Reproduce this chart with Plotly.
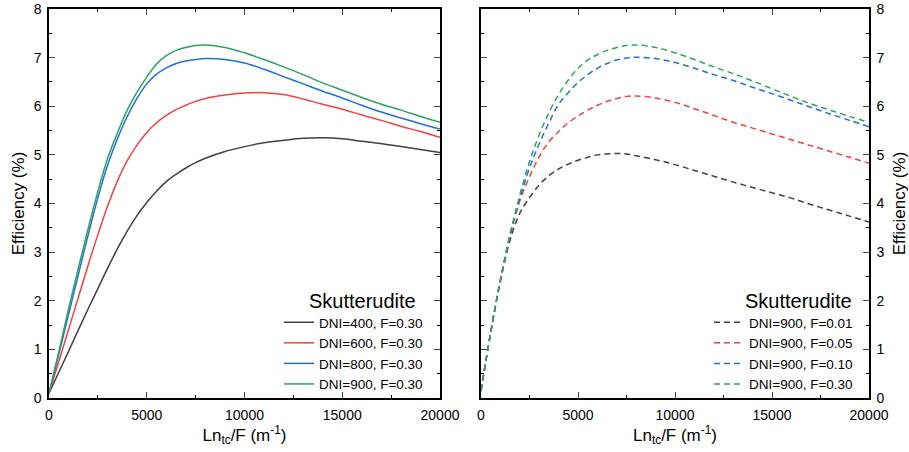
import plotly.graph_objects as go

# ---------------- data ----------------
# Left panel: F = 0.30, varying DNI
left_names = ["DNI=400, F=0.30", "DNI=600, F=0.30", "DNI=800, F=0.30", "DNI=900, F=0.30"]

left_x = [0, 500, 1000, 1500, 2000, 2500, 3000, 3500, 4000, 4500, 5000, 5500, 6000, 6500, 7000, 7500, 8000,
          9000, 10000, 11000, 12000, 13000, 14000, 15000, 16000, 17000, 18000, 19000, 20000]

dni400_y = [0.10, 0.53, 0.96, 1.40, 1.83, 2.25, 2.67, 3.07, 3.43, 3.75, 4.02, 4.25, 4.45, 4.60, 4.73, 4.84, 4.93,
            5.07, 5.17, 5.25, 5.30, 5.34, 5.35, 5.33, 5.28, 5.23, 5.17, 5.11, 5.05]
dni600_y = [0.10, 0.75, 1.41, 2.07, 2.73, 3.36, 3.95, 4.46, 4.88, 5.20, 5.46, 5.66, 5.81, 5.93, 6.02, 6.10, 6.16,
            6.23, 6.27, 6.28, 6.24, 6.15, 6.04, 5.94, 5.82, 5.71, 5.59, 5.48, 5.36]
dni800_y = [0.10, 0.90, 1.72, 2.54, 3.35, 4.12, 4.79, 5.33, 5.79, 6.16, 6.46, 6.66, 6.79, 6.88, 6.93, 6.96, 6.98,
            6.96, 6.89, 6.76, 6.61, 6.46, 6.31, 6.17, 6.02, 5.88, 5.76, 5.64, 5.53]
dni900_y = [0.10, 0.95, 1.83, 2.67, 3.48, 4.25, 4.93, 5.45, 5.92, 6.29, 6.60, 6.87, 7.04, 7.15, 7.21, 7.25, 7.26,
            7.21, 7.10, 6.96, 6.81, 6.65, 6.48, 6.33, 6.18, 6.04, 5.92, 5.79, 5.67]

# Right panel: DNI = 900, varying F
right_names = ["DNI=900, F=0.01", "DNI=900, F=0.05", "DNI=900, F=0.10", "DNI=900, F=0.30"]

right_x = [0, 500, 1000, 1500, 2000, 2500, 3000, 3500, 4000, 4500, 5000, 5500, 6000, 6500, 7000, 7500, 8000,
           9000, 10000, 11000, 12000, 13000, 14000, 15000, 16000, 17000, 18000, 19000, 20000]

f001_y = [0.15, 1.35, 2.40, 3.25, 3.80, 4.12, 4.38, 4.57, 4.71, 4.81, 4.89, 4.95, 5.00, 5.02, 5.03, 5.02, 4.98,
          4.90, 4.80, 4.68, 4.56, 4.44, 4.33, 4.22, 4.11, 3.98, 3.86, 3.74, 3.62]
f005_y = [0.15, 1.35, 2.42, 3.33, 4.05, 4.55, 4.96, 5.27, 5.48, 5.66, 5.80, 5.92, 6.02, 6.10, 6.16, 6.20, 6.21,
          6.17, 6.08, 5.95, 5.81, 5.67, 5.55, 5.43, 5.31, 5.19, 5.07, 4.95, 4.83]
f010_y = [0.15, 1.35, 2.43, 3.36, 4.10, 4.73, 5.23, 5.66, 6.04, 6.28, 6.49, 6.65, 6.78, 6.88, 6.95, 6.99, 7.01,
          6.98, 6.90, 6.78, 6.65, 6.53, 6.39, 6.26, 6.12, 5.98, 5.84, 5.71, 5.58]
f030_y = [0.15, 1.35, 2.43, 3.37, 4.17, 4.86, 5.41, 5.87, 6.24, 6.54, 6.78, 6.95, 7.06, 7.15, 7.21, 7.25, 7.26,
          7.21, 7.10, 6.96, 6.81, 6.67, 6.52, 6.36, 6.20, 6.05, 5.92, 5.79, 5.67]

x_ticks = [0, 5000, 10000, 15000, 20000]
x_ticktext = ["0", "5000", "10000", "15000", "20000"]
y_ticks = [0, 1, 2, 3, 4, 5, 6, 7, 8]

legend_title = "Skutterudite"
x_title = "Ln<sub>tc</sub>/F (m<sup>-1</sup>)"
y_title = "Efficiency (%)"

colors = ["#404040", "#f5413f", "#1f6fe0", "#2ea35f"]

left_series = [dni400_y, dni600_y, dni800_y, dni900_y]
right_series = [f001_y, f005_y, f010_y, f030_y]

FONT = "Liberation Sans, Arial, sans-serif"

fig = go.Figure()
for ys, name, c in zip(left_series, left_names, colors):
    fig.add_trace(go.Scatter(x=left_x, y=ys, name=name, mode="lines",
                             line=dict(color=c, width=1.5, shape="spline", smoothing=1.0),
                             xaxis="x", yaxis="y", legend="legend"))
for ys, name, c in zip(right_series, right_names, colors):
    fig.add_trace(go.Scatter(x=right_x, y=ys, name=name, mode="lines",
                             line=dict(color=c, width=1.5, dash="6px,4px", shape="spline", smoothing=1.0),
                             xaxis="x2", yaxis="y2", legend="legend2"))

L, R, T, B = 49, 40, 9, 54
W, H = 909, 452
pw = W - L - R
ph = H - T - B


def px(xpix):
    return (xpix - L) / pw


def py(ypix):
    return (H - B - ypix) / ph


common_x = dict(range=[0, 20000], tickvals=x_ticks, ticktext=x_ticktext, ticks="inside", ticklen=6,
                tickwidth=1.2, showline=True, linecolor="black", linewidth=1.5, mirror="allticks",
                showgrid=False, zeroline=False, automargin=False, ticklabelstandoff=3,
                tickfont=dict(size=14, family=FONT, color="black"),
                minor=dict(dtick=2500, ticks="inside", ticklen=3.5, tickwidth=1.2, tickcolor="black"),
                title=dict(text=x_title, font=dict(size=17, family=FONT, color="black"), standoff=0))
common_y = dict(range=[0, 8], tickvals=y_ticks, ticks="inside", ticklen=6, tickwidth=1.2,
                showline=True, linecolor="black", linewidth=1.5, mirror="allticks",
                showgrid=False, zeroline=False, automargin=False, ticklabelstandoff=3,
                tickfont=dict(size=14, family=FONT, color="black"),
                minor=dict(dtick=0.5, ticks="inside", ticklen=3.5, tickwidth=1.2, tickcolor="black"))

fig.update_layout(
    width=W, height=H,
    margin=dict(l=L, r=R, t=T, b=B, autoexpand=False),
    plot_bgcolor="white", paper_bgcolor="white",
    font=dict(family=FONT, color="black"),
    xaxis=dict(domain=[0, px(440)], anchor="y", **common_x),
    yaxis=dict(domain=[0, 1], anchor="x", side="left",
               title=dict(text=y_title, font=dict(size=17, family=FONT, color="black"), standoff=5),
               **common_y),
    xaxis2=dict(domain=[px(481), 1], anchor="y2", **common_x),
    yaxis2=dict(domain=[0, 1], anchor="x2", side="right",
                title=dict(text=y_title, font=dict(size=17, family=FONT, color="black"), standoff=10),
                **common_y),
    legend=dict(x=px(428), y=py(307), xanchor="right", yanchor="top",
                bgcolor="rgba(0,0,0,0)", font=dict(size=13.5, family=FONT, color="black"),
                tracegroupgap=0, itemwidth=30),
    legend2=dict(x=px(858), y=py(307), xanchor="right", yanchor="top",
                 bgcolor="rgba(0,0,0,0)", font=dict(size=13.5, family=FONT, color="black"),
                 tracegroupgap=0, itemwidth=30),
    annotations=[
        dict(text=legend_title, x=px(418), y=py(301), xref="paper", yref="paper",
             xanchor="right", yanchor="middle", showarrow=False,
             font=dict(size=20, family=FONT, color="black")),
        dict(text=legend_title, x=px(854), y=py(301), xref="paper", yref="paper",
             xanchor="right", yanchor="middle", showarrow=False,
             font=dict(size=20, family=FONT, color="black")),
    ],
)

fig.write_html("out.html", config={"displayModeBar": False},
               post_script="document.body.style.margin='0';document.body.style.overflow='hidden';")
